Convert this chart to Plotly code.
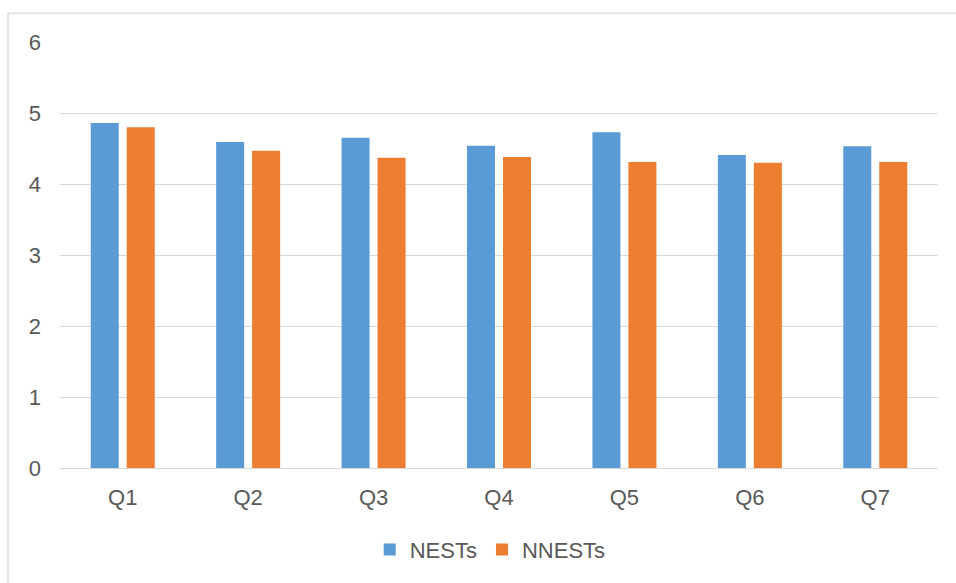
import plotly.graph_objects as go

categories = ["Q1", "Q2", "Q3", "Q4", "Q5", "Q6", "Q7"]
nests = [4.86, 4.59, 4.65, 4.54, 4.73, 4.41, 4.53]
nnests = [4.80, 4.47, 4.37, 4.38, 4.31, 4.30, 4.31]
y_ticks = [0, 1, 2, 3, 4, 5, 6]

TEXT = "#595959"
FONT = "Liberation Sans, Arial, sans-serif"

fig = go.Figure()
fig.add_trace(go.Bar(name="NESTs", x=categories, y=nests,
                     marker=dict(color="#5B9BD5", line=dict(width=0))))
fig.add_trace(go.Bar(name="NNESTs", x=categories, y=nnests,
                     marker=dict(color="#ED7D31", line=dict(width=0))))

fig.update_layout(
    width=956, height=583,
    margin=dict(l=60, r=18, t=42, b=115),
    paper_bgcolor="white", plot_bgcolor="white",
    barmode="group", bargap=0.426, bargroupgap=0.222,
    font=dict(family=FONT, size=22, color=TEXT),
    showlegend=True,
    legend=dict(orientation="h", x=0.49, xanchor="center", y=-0.192, yanchor="middle",
                font=dict(size=22, color=TEXT), itemwidth=30, traceorder="normal"),
    xaxis=dict(showgrid=False, showline=False, ticks="", ticklabelstandoff=14,
               tickfont=dict(size=22, color=TEXT)),
    yaxis=dict(range=[0, 6], tickvals=y_ticks, showgrid=True, gridcolor="#D9D9D9",
               gridwidth=1.3, zeroline=True, zerolinecolor="#D9D9D9", zerolinewidth=1.3,
               showline=False, ticks="", ticklabelstandoff=18,
               tickfont=dict(size=22, color=TEXT)),
)

fig.add_shape(type="rect", xref="paper", yref="paper",
              x0=-0.0592, x1=1.03, y0=-0.3, y1=1.068,
              line=dict(color="#D9D9D9", width=1.3), fillcolor="rgba(0,0,0,0)", layer="below")

fig.write_html("out.html")
